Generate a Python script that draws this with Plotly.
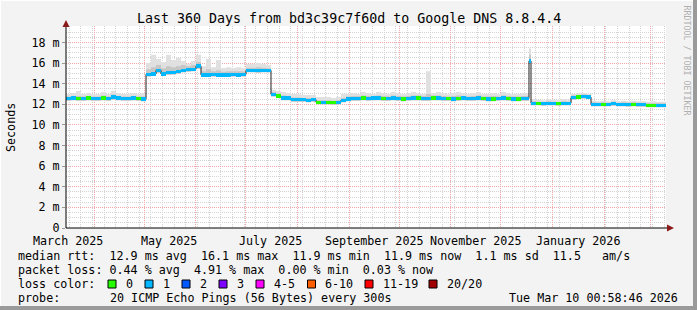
import plotly.graph_objects as go
import pandas as pd

# ---------------- data ----------------
START = pd.Timestamp("2025-03-15 01:00:00")
END = pd.Timestamp("2026-03-10 00:58:46")

# 3-day bins, median rtt in ms
median_ms = [
    12.55, 12.6, 12.55, 12.55, 12.6, 12.55, 12.55, 12.6, 12.55, 12.7, 12.6, 12.55, 12.55, 12.6, 12.55, 12.5,
    14.9, 14.95, 15.3, 14.95, 15.05, 15.1, 15.15, 15.3, 15.35, 15.4, 15.7,
    14.85, 14.85, 14.9, 14.85, 14.85, 14.85, 14.9, 14.85, 14.9,
    15.3, 15.3, 15.25, 15.3, 15.3,
    12.95, 12.8, 12.6, 12.6,
    12.45, 12.45, 12.45, 12.4, 12.45,
    12.2, 12.2, 12.2, 12.15, 12.2,
    12.4,
    12.5, 12.55, 12.55, 12.6, 12.55, 12.6, 12.6, 12.55, 12.55, 12.6, 12.55, 12.5, 12.55, 12.6, 12.6, 12.55,
    12.55, 12.6, 12.6, 12.55, 12.55, 12.5, 12.55, 12.6, 12.55, 12.55, 12.6, 12.55, 12.5, 12.5, 12.55, 12.6,
    12.55, 12.5, 12.5, 12.55, 12.55,
    12.1, 12.1, 12.05, 12.1, 12.1, 12.05, 12.1, 12.1,
    12.65, 12.7, 12.75, 12.7,
    12.0, 12.0, 12.0, 12.0, 12.05, 12.0, 12.0, 11.95, 12.0, 11.95, 11.95, 11.9, 11.9, 11.9, 11.9,
]
# loss colour index per bin (0 -> "0", 1 -> "1")
loss_idx = [
    1, 1, 0, 1, 0, 1, 1, 0, 1, 1, 1, 1, 1, 1, 0, 1,
    1, 1, 1, 1, 1, 1, 1, 1, 1, 1, 1,
    1, 1, 1, 1, 1, 1, 1, 1, 1,
    1, 1, 1, 1, 1,
    1, 0, 1, 1,
    1, 1, 1, 1, 1,
    0, 1, 0, 0, 1,
    1,
    1, 1, 1, 0, 1, 1, 1, 0, 1, 1, 1, 0, 1, 1, 0, 1,
    1, 0, 1, 1, 0, 1, 0, 1, 1, 1, 1, 0, 1, 0, 1, 1,
    0, 1, 0, 1, 1,
    1, 0, 1, 1, 1, 0, 1, 1,
    1, 0, 1, 1,
    1, 1, 0, 1, 1, 1, 1, 1, 0, 1, 1, 0, 0, 1, 1,
]
# smoke: max ping, upper inner (dense) ping level, min ping, in ms
smoke_hi_ms = [
    13.0, 13.1, 13.3, 13.0, 13.1, 13.0, 13.0, 13.2, 13.0, 13.3, 13.1, 13.0, 13.0, 13.1, 13.0, 13.1,
    16.0, 16.8, 16.4, 16.1, 16.8, 16.3, 16.5, 16.2, 15.9, 16.2, 16.8,
    15.7, 16.4, 15.6, 16.3, 15.5, 15.6, 15.5, 15.6, 15.5,
    15.9, 15.9, 16.0, 15.9, 15.8,
    13.4, 13.3, 13.2, 13.1,
    13.0, 13.0, 12.9, 12.9, 12.9,
    12.7, 12.7, 12.7, 12.6, 12.7,
    13.0,
    13.0, 13.1, 13.0, 13.2, 13.1, 13.0, 13.2, 13.1, 13.0, 13.2, 13.1, 13.0, 13.1, 13.2, 13.1, 13.0,
    15.2, 13.1, 13.2, 13.1, 13.0, 13.1, 13.2, 13.1, 13.0, 13.1, 13.2, 13.0, 13.0, 13.1, 13.0, 13.2,
    13.1, 13.0, 13.0, 13.1, 13.1,
    12.5, 12.45, 12.4, 12.5, 12.45, 12.4, 12.5, 12.45,
    13.0, 13.1, 13.1, 13.0,
    12.35, 12.3, 12.35, 12.3, 12.4, 12.3, 12.35, 12.3, 12.35, 12.3, 12.3, 12.25, 12.3, 12.25, 12.25,
]
smoke_mid_ms = [
    12.75, 12.8, 12.8, 12.75, 12.8, 12.75, 12.75, 12.85, 12.75, 12.95, 12.8, 12.75, 12.75, 12.8, 12.75, 12.75,
    15.4, 15.6, 15.8, 15.5, 15.7, 15.6, 15.7, 15.8, 15.7, 15.8, 16.1,
    15.2, 15.4, 15.2, 15.3, 15.15, 15.2, 15.2, 15.2, 15.2,
    15.55, 15.55, 15.6, 15.55, 15.5,
    13.2, 13.05, 12.85, 12.8,
    12.65, 12.65, 12.6, 12.6, 12.6,
    12.4, 12.4, 12.4, 12.35, 12.4,
    12.6,
    12.75, 12.8, 12.8, 12.85, 12.8, 12.8, 12.85, 12.8, 12.75, 12.85, 12.8, 12.75, 12.8, 12.85, 12.85, 12.8,
    13.0, 12.85, 12.85, 12.8, 12.75, 12.8, 12.85, 12.8, 12.75, 12.8, 12.85, 12.75, 12.75, 12.8, 12.75, 12.85,
    12.8, 12.75, 12.75, 12.8, 12.8,
    12.3, 12.25, 12.2, 12.3, 12.25, 12.2, 12.3, 12.25,
    12.85, 12.9, 12.95, 12.85,
    12.2, 12.15, 12.2, 12.15, 12.25, 12.15, 12.2, 12.15, 12.2, 12.15, 12.15, 12.1, 12.1, 12.1, 12.1,
]
smoke_lo_ms = [
    12.35, 12.4, 12.35, 12.35, 12.4, 12.35, 12.35, 12.4, 12.35, 12.45, 12.4, 12.35, 12.35, 12.4, 12.35, 12.3,
    14.7, 14.75, 15.05, 14.75, 14.85, 14.9, 14.95, 15.1, 15.15, 15.2, 15.45,
    14.65, 14.65, 14.7, 14.65, 14.65, 14.65, 14.7, 14.65, 14.7,
    15.1, 15.1, 15.05, 15.1, 15.1,
    12.75, 12.6, 12.4, 12.4,
    12.25, 12.25, 12.25, 12.2, 12.25,
    12.0, 12.0, 12.0, 11.95, 12.0,
    12.2,
    12.3, 12.35, 12.35, 12.4, 12.35, 12.4, 12.4, 12.35, 12.35, 12.4, 12.35, 12.3, 12.35, 12.4, 12.4, 12.35,
    12.35, 12.4, 12.4, 12.35, 12.35, 12.3, 12.35, 12.4, 12.35, 12.35, 12.4, 12.35, 12.3, 12.3, 12.35, 12.4,
    12.35, 12.3, 12.3, 12.35, 12.35,
    11.9, 11.9, 11.85, 11.9, 11.9, 11.85, 11.9, 11.9,
    12.45, 12.5, 12.55, 12.5,
    11.8, 11.8, 11.8, 11.8, 11.85, 11.8, 11.8, 11.75, 11.8, 11.75, 11.75, 11.7, 11.7, 11.7, 11.7,
]
# the short spike in December
spike_start = ["2025-12-17 20:00"]
spike_median_ms = [16.2]
spike_loss_idx = [1]
spike_hi_ms = [17.4]
spike_mid_ms = [16.8]
spike_lo_ms = [15.9]

y_ticks_ms = [0, 2, 4, 6, 8, 10, 12, 14, 16, 18]
y_tick_text = ["0", "2 m", "4 m", "6 m", "8 m", "10 m", "12 m", "14 m", "16 m", "18 m"]
month_labels = ["March 2025", "May 2025", "July 2025", "September 2025", "November 2025", "January 2026"]
month_label_dates = ["2025-03-16", "2025-05-16", "2025-07-16", "2025-09-16", "2025-11-16", "2026-01-16"]

loss_names = ["0", "1", "2", "3", "4-5", "6-10", "11-19", "20/20"]
loss_colors = ["#26ff00", "#00b8ff", "#0059ff", "#7e00ff", "#ff00ff", "#ff5e00", "#ff0000", "#a10000"]

stats_rtt = ["12.9 ms avg", "16.1 ms max", "11.9 ms min", "11.9 ms now", "1.1 ms sd", "11.5   am/s"]
stats_loss = ["0.44 % avg", "4.91 % max", "0.00 % min", "0.03 % now"]
probe_text = "20 ICMP Echo Pings (56 Bytes) every 300s"
stamp_text = "Tue Mar 10 00:58:46 2026"

# ---------------- assemble segments ----------------
assert len(median_ms) == len(loss_idx) == len(smoke_hi_ms) == len(smoke_lo_ms) == len(smoke_mid_ms) == 120
bins = pd.DataFrame({
    "t0": pd.date_range(START, periods=len(median_ms), freq="3D"),
    "med": median_ms, "loss": loss_idx, "hi": smoke_hi_ms, "mid": smoke_mid_ms, "lo": smoke_lo_ms,
})
spk = pd.DataFrame({"t0": pd.to_datetime(spike_start), "med": spike_median_ms, "loss": spike_loss_idx,
                    "hi": spike_hi_ms, "mid": spike_mid_ms, "lo": spike_lo_ms})
seg = pd.concat([bins, spk]).sort_values("t0").reset_index(drop=True)
seg["t1"] = seg["t0"].shift(-1).fillna(END)

xs = list(seg["t0"]) + [END]
def step(col):
    v = [x / 1000.0 for x in seg[col]]
    return v + [v[-1]]

FONT = "DejaVu Sans Mono"
FS = 11.7
NB = "\u00a0"
fig = go.Figure()

# smoke: light outer band, darker inner band
for lower, upper, colr in [("lo", "hi", "#e0e0e0"), ("lo", "mid", "#c6c6c6")]:
    fig.add_trace(go.Scatter(x=xs, y=step(lower), mode="lines", line=dict(width=0, shape="hv"),
                             hoverinfo="skip", showlegend=False))
    fig.add_trace(go.Scatter(x=xs, y=step(upper), mode="lines", line=dict(width=0, shape="hv"),
                             fill="tonexty", fillcolor=colr, hoverinfo="skip", showlegend=False))
# median line (dark)
fig.add_trace(go.Scatter(x=xs, y=step("med"), mode="lines", line=dict(width=1, color="#202020", shape="hv"),
                         hoverinfo="skip", showlegend=False, zorder=1))
# loss coloured band around the median
half = 0.16
fig.add_trace(go.Bar(
    x=seg["t0"], y=[2 * half / 1000.0] * len(seg), base=[(m - half) / 1000.0 for m in seg["med"]],
    width=[(b - a).total_seconds() * 1000 for a, b in zip(seg["t0"], seg["t1"])], offset=0,
    marker=dict(color=[loss_colors[i] for i in seg["loss"]], line=dict(width=0)),
    hoverinfo="skip", showlegend=False, zorder=2))

# ---------------- layout ----------------
W, H = 697, 310
L, R, T, B = 66, 666, 26, 228
def px(x):
    return (x - L) / (R - L)
def py(y):
    return (B - y) / (B - T)

ymax = (B - T) / 10.31 / 1000.0
month_starts = pd.date_range("2025-04-01", "2026-03-01", freq="MS")

fig.update_layout(
    width=W, height=H, margin=dict(l=L, r=W - R, t=T, b=H - B),
    paper_bgcolor="#f3f3f3", plot_bgcolor="#ffffff",
    barmode="overlay", bargap=0, showlegend=False,
    font=dict(family=FONT, size=FS, color="#000000"),
    xaxis=dict(type="date", range=[START, END], showline=False, zeroline=False,
               tickmode="array", tickvals=month_starts, ticktext=[""] * len(month_starts),
               showgrid=True, gridcolor="#f2a8a8", griddash="1px,1px", gridwidth=1,
               ticks="", minor=dict(tickmode="linear", tick0="2025-03-17", dtick=7 * 86400000,
                                    showgrid=True, gridcolor="#d4d4d4", griddash="1px,1px", ticks="")),
    yaxis=dict(range=[0, ymax], tickmode="array", tickvals=[v / 1000.0 for v in y_ticks_ms],
               ticktext=y_tick_text, showline=False, zeroline=False,
               showgrid=True, gridcolor="#f2a8a8", griddash="1px,1px",
               ticks="outside", ticklen=3, tickcolor="#999999",
               tickfont=dict(family=FONT, size=FS),
               minor=dict(dtick=0.0005, showgrid=True, gridcolor="#d4d4d4", griddash="1px,1px")),
)

shapes = []
# axis lines
shapes.append(dict(type="line", xref="paper", yref="paper", x0=px(66), x1=px(669), y0=py(228), y1=py(228),
                   line=dict(color="#000000", width=1)))
shapes.append(dict(type="line", xref="paper", yref="paper", x0=px(66), x1=px(66), y0=py(228), y1=py(24),
                   line=dict(color="#000000", width=1)))
# arrows
shapes.append(dict(type="path", xref="paper", yref="paper",
                   path=f"M {px(667)},{py(224.5)} L {px(674)},{py(228)} L {px(667)},{py(231.5)} Z",
                   fillcolor="#8b1a1a", line=dict(width=0)))
shapes.append(dict(type="path", xref="paper", yref="paper",
                   path=f"M {px(62.5)},{py(27)} L {px(66)},{py(20)} L {px(69.5)},{py(27)} Z",
                   fillcolor="#8b1a1a", line=dict(width=0)))
# frame shading
shapes.append(dict(type="rect", xref="paper", yref="paper", x0=px(693), x1=px(698), y0=py(-1), y1=py(311),
                   fillcolor="#9a9a9a", line=dict(width=0)))
shapes.append(dict(type="rect", xref="paper", yref="paper", x0=px(-1), x1=px(698), y0=py(306), y1=py(311),
                   fillcolor="#9a9a9a", line=dict(width=0)))
shapes.append(dict(type="rect", xref="paper", yref="paper", x0=px(-1), x1=px(693), y0=py(-1), y1=py(1),
                   fillcolor="#ffffff", line=dict(width=0)))
shapes.append(dict(type="rect", xref="paper", yref="paper", x0=px(-1), x1=px(1), y0=py(-1), y1=py(306),
                   fillcolor="#ffffff", line=dict(width=0)))

ann = []
def text(x, y, s, anchor="left", size=FS, color="#000000", angle=0):
    ann.append(dict(x=px(x), y=py(y), xref="paper", yref="paper", text=s, showarrow=False,
                    xanchor=anchor, yanchor="middle", textangle=angle,
                    font=dict(family=FONT, size=size, color=color)))

text(348.5, 19, "Last 360 Days from bd3c39c7f60d to Google DNS 8.8.4.4", anchor="center", size=13.3)
text(11, 128, "Seconds", anchor="center", angle=-90)
text(686.5, 60, "RRDTOOL / TOBI OETIKER", anchor="center", size=8.3, color="#b0b0b0", angle=90)

for lab, d in zip(month_labels, month_label_dates):
    ann.append(dict(x=d, xref="x", y=py(241), yref="paper", text=lab, showarrow=False,
                    xanchor="center", yanchor="middle", font=dict(family=FONT, size=FS)))

row = [256, 270, 284, 298]
gap = NB * 2
text(15.5, row[0], ("median rtt:" + gap + gap.join(stats_rtt)).replace(" ", NB))
text(15.5, row[1], ("packet loss:" + NB + gap.join(stats_loss)).replace(" ", NB))
text(15.5, row[2], "loss color:")
for name, col, x in zip(loss_names, loss_colors, [108, 145, 182, 219, 256, 307.5, 365, 429]):
    shapes.append(dict(type="rect", xref="paper", yref="paper", x0=px(x), x1=px(x + 8),
                       y0=py(row[2] + 4), y1=py(row[2] - 4), fillcolor=col, line=dict(color="#000000", width=1)))
    text(x + 15.5, row[2], name)
text(15.5, row[3], "probe:")
text(107.5, row[3], probe_text)
text(680, row[3], stamp_text, anchor="right")

fig.update_layout(shapes=shapes, annotations=ann)
fig.write_html("out.html")
